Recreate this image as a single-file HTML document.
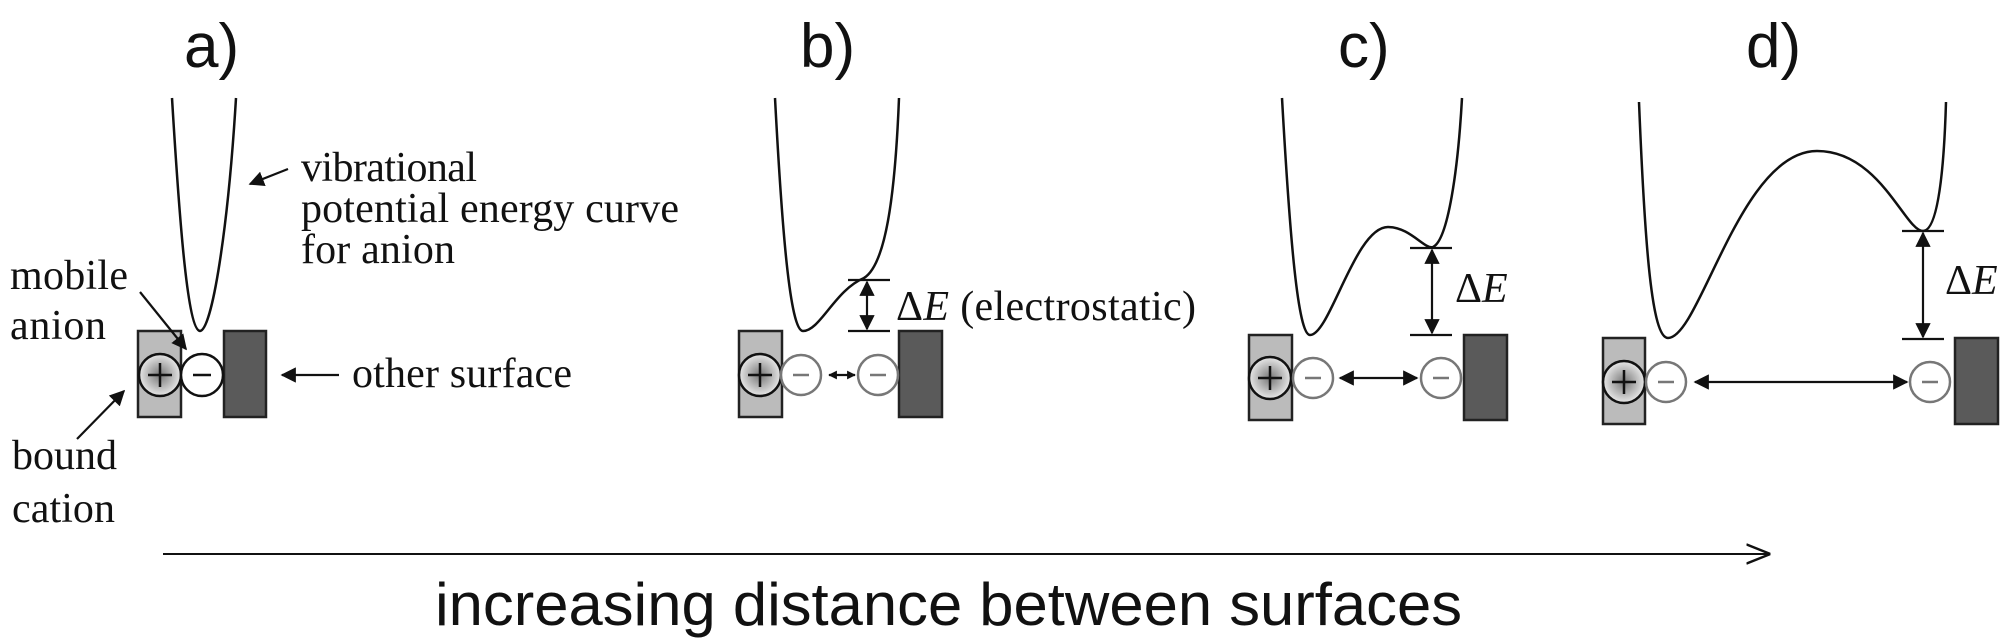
<!DOCTYPE html>
<html><head><meta charset="utf-8"><style>
html,body{margin:0;padding:0;background:#fff}
svg{display:block}
.serif{font-family:"Liberation Serif",serif;fill:#111}
.sans{font-family:"Liberation Sans",sans-serif;fill:#111}
</style></head><body>
<svg width="2008" height="640" viewBox="0 0 2008 640" xmlns="http://www.w3.org/2000/svg">
<defs>
<marker id="ah" viewBox="0 0 10 10" refX="9" refY="5" markerWidth="7" markerHeight="7" orient="auto-start-reverse"><path d="M0,0 L10,5 L0,10 z" fill="#111"/></marker>
<marker id="as" viewBox="0 0 10 10" refX="9" refY="5" markerWidth="4" markerHeight="4" orient="auto-start-reverse"><path d="M0,0 L10,5 L0,10 z" fill="#111"/></marker>
<marker id="ao" viewBox="0 0 10 10" refX="9" refY="5" markerWidth="12" markerHeight="12" orient="auto"><path d="M0,1 L10,5 L0,9" fill="none" stroke="#111" stroke-width="1"/></marker>
<radialGradient id="cg"><stop offset="0" stop-color="#777"/><stop offset="1" stop-color="#e8e8e8"/></radialGradient>
</defs>
<g fill="none" stroke="#111" stroke-width="2.5">
<path d="M172,98 C180,230 188,330 200,331 C212,330 228,230 236,98"/>
<path d="M775,98 C782,230 790,331 803,331 C820,331 835,290 864,278 C885,265 895,200 899,98"/>
<path d="M1282,98 C1290,240 1298,335 1310,335 C1330,335 1355,227 1388,227 C1410,227 1425,250 1433,247 C1448,240 1458,170 1462,98"/>
<path d="M1639,102 C1645,250 1652,338 1668,338 C1700,338 1740,151 1817,151 C1880,151 1905,231 1923,231 C1938,231 1944,170 1946,102"/>
</g>
<g class="sans" font-size="62">
<text x="184" y="67">a)</text><text x="800" y="67">b)</text><text x="1338" y="67">c)</text><text x="1746" y="67">d)</text>
</g>
<g stroke="#222" stroke-width="2.5">
<rect x="138" y="331" width="43" height="86" fill="#bbb"/>
<rect x="224" y="331" width="42" height="86" fill="#5a5a5a"/>
<rect x="739" y="331" width="43" height="86" fill="#bbb"/>
<rect x="899" y="331" width="43" height="86" fill="#5a5a5a"/>
<rect x="1249" y="335" width="43" height="85" fill="#bbb"/>
<rect x="1464" y="335" width="43" height="85" fill="#5a5a5a"/>
<rect x="1603" y="338" width="42" height="86" fill="#bbb"/>
<rect x="1955" y="338" width="43" height="86" fill="#5a5a5a"/>
</g>
<g stroke-width="2.5">
<g><circle cx="160" cy="375" r="21" fill="url(#cg)" stroke="#111"/><path d="M148,375h24M160,363v24" stroke="#111"/></g>
<g><circle cx="202" cy="375" r="21" fill="#fff" stroke="#111"/><path d="M193,375h18" stroke="#111"/></g>
<g><circle cx="760" cy="375" r="21" fill="url(#cg)" stroke="#111"/><path d="M748,375h24M760,363v24" stroke="#111"/></g>
<g stroke="#777"><circle cx="801" cy="375" r="20" fill="#fff"/><path d="M793,375h16"/><circle cx="878" cy="375" r="20" fill="#fff"/><path d="M870,375h16"/></g>
<g><circle cx="1270" cy="378" r="21" fill="url(#cg)" stroke="#111"/><path d="M1258,378h24M1270,366v24" stroke="#111"/></g>
<g stroke="#777"><circle cx="1313" cy="378" r="20" fill="#fff"/><path d="M1305,378h16"/><circle cx="1441" cy="378" r="20" fill="#fff"/><path d="M1433,378h16"/></g>
<g><circle cx="1624" cy="382" r="21" fill="url(#cg)" stroke="#111"/><path d="M1612,382h24M1624,370v24" stroke="#111"/></g>
<g stroke="#777"><circle cx="1666" cy="382" r="20" fill="#fff"/><path d="M1658,382h16"/><circle cx="1930" cy="382" r="20" fill="#fff"/><path d="M1922,382h16"/></g>
</g>
<g stroke="#111" stroke-width="2.2" fill="none">
<line x1="288" y1="169" x2="250" y2="184" marker-end="url(#ah)"/>
<line x1="140" y1="292" x2="186" y2="349" marker-end="url(#ah)"/>
<line x1="339" y1="375" x2="282" y2="375" marker-end="url(#ah)"/>
<line x1="77" y1="439" x2="124" y2="391" marker-end="url(#ah)"/>
<line x1="829" y1="375" x2="855" y2="375" marker-start="url(#as)" marker-end="url(#as)"/>
<line x1="1340" y1="378" x2="1417" y2="378" marker-start="url(#ah)" marker-end="url(#ah)"/>
<line x1="1695" y1="382" x2="1907" y2="382" marker-start="url(#ah)" marker-end="url(#ah)"/>
<path d="M848,280h42M848,331h42M1410,248h42M1410,335h42M1902,231h42M1902,339h42"/>
<line x1="867" y1="282" x2="867" y2="329" marker-start="url(#ah)" marker-end="url(#ah)"/>
<line x1="1432" y1="250" x2="1432" y2="333" marker-start="url(#ah)" marker-end="url(#ah)"/>
<line x1="1923" y1="233" x2="1923" y2="337" marker-start="url(#ah)" marker-end="url(#ah)"/>
<line x1="163" y1="554" x2="1768" y2="554" stroke-width="2" marker-end="url(#ao)"/>
</g>
<g class="serif" font-size="42">
<text x="301" y="181" textLength="176">vibrational</text>
<text x="301" y="222" textLength="378">potential energy curve</text>
<text x="301" y="263" textLength="154">for anion</text>
<text x="10" y="289" textLength="118">mobile</text>
<text x="10" y="339" textLength="96">anion</text>
<text x="352" y="387" textLength="220">other surface</text>
<text x="12" y="469" textLength="105">bound</text>
<text x="12" y="522" textLength="103">cation</text>
<text x="896" y="320" textLength="300">Δ<tspan font-style="italic">E</tspan> (electrostatic)</text>
<text x="1455" y="302">Δ<tspan font-style="italic">E</tspan></text>
<text x="1945" y="294">Δ<tspan font-style="italic">E</tspan></text>
</g>
<text class="sans" x="435" y="625" font-size="60" textLength="1027" lengthAdjust="spacingAndGlyphs">increasing distance between surfaces</text>
</svg>
</body></html>
